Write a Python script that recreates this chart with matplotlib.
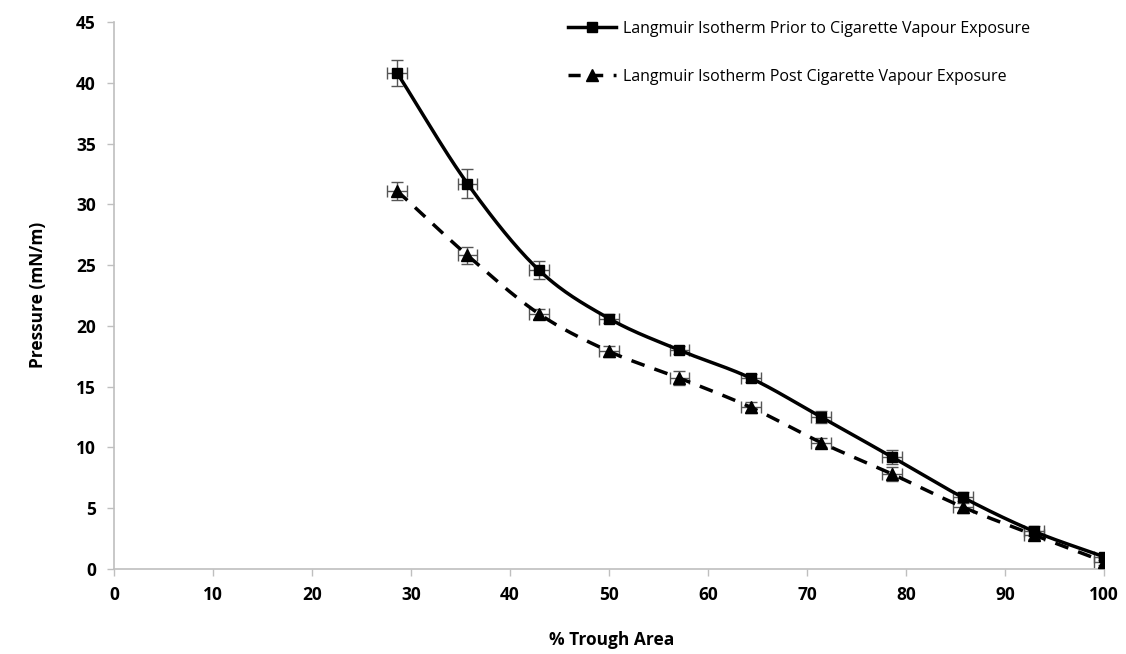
import numpy as np
import matplotlib.pyplot as plt

# Data
trough_area = [28.6, 35.7, 42.9, 50.0, 57.1, 64.3, 71.4, 78.6, 85.7, 92.9, 100.0]
prior = [40.8, 31.7, 24.6, 20.6, 18.0, 15.7, 12.5, 9.2, 5.9, 3.1, 1.0]
prior_err = [1.1, 1.2, 0.75, 0.4, 0.35, 0.35, 0.5, 0.55, 0.45, 0.4, 0.3]
post = [31.1, 25.8, 21.0, 17.9, 15.7, 13.3, 10.4, 7.8, 5.1, 2.8, 0.6]
post_err = [0.75, 0.7, 0.4, 0.45, 0.55, 0.45, 0.35, 0.55, 0.5, 0.35, 0.3]
area_err = 1.0

label_prior = "Langmuir Isotherm Prior to Cigarette Vapour Exposure"
label_post = "Langmuir Isotherm Post Cigarette Vapour Exposure"


def smooth(x, y, n=30):
    # Catmull-Rom spline, similar to Excel's smoothed lines
    x = np.asarray(x, float)
    y = np.asarray(y, float)
    px = np.concatenate([[2 * x[0] - x[1]], x, [2 * x[-1] - x[-2]]])
    py = np.concatenate([[2 * y[0] - y[1]], y, [2 * y[-1] - y[-2]]])
    xs, ys = [], []
    t = np.linspace(0, 1, n)
    for i in range(1, len(px) - 2):
        for p, out in ((px, xs), (py, ys)):
            p0, p1, p2, p3 = p[i - 1], p[i], p[i + 1], p[i + 2]
            out.append(0.5 * (2 * p1 + (-p0 + p2) * t
                              + (2 * p0 - 5 * p1 + 4 * p2 - p3) * t ** 2
                              + (-p0 + 3 * p1 - 3 * p2 + p3) * t ** 3))
    return np.concatenate(xs), np.concatenate(ys)


plt.rcParams['font.family'] = ['Open Sans', 'DejaVu Sans']

fig = plt.figure(figsize=(11.26, 6.54), dpi=100)
ax = fig.add_axes([0.1012, 0.130, 0.8795, 0.8364])

err_kw = dict(fmt='none', ecolor='#555555', elinewidth=1.0, capsize=4, capthick=1.0, zorder=2)
ax.errorbar(trough_area, prior, yerr=prior_err, xerr=area_err, **err_kw)
ax.errorbar(trough_area, post, yerr=post_err, xerr=area_err, **err_kw)

sx, sy = smooth(trough_area, prior)
ax.plot(sx, sy, color='black', lw=2.5, zorder=3)
ax.plot(trough_area, prior, 's', color='black', ms=7, zorder=4)
sx, sy = smooth(trough_area, post)
ax.plot(sx, sy, color='black', lw=2.5, ls=(0, (4, 3)), zorder=3)
ax.plot(trough_area, post, '^', color='black', ms=8, zorder=4)

# legend handles
h1, = ax.plot([], [], color='black', lw=2.5, marker='s', ms=7)
h2, = ax.plot([], [], color='black', lw=2.5, ls=(0, (3.5, 3)), marker='^', ms=8)
ax.legend([h1, h2], [label_prior, label_post], loc='upper left',
          bbox_to_anchor=(0.444, 1.028), frameon=False, fontsize=11.5,
          labelspacing=2.0, handlelength=3.0, handletextpad=0.45)

ax.set_xlim(0, 100)
ax.set_ylim(0, 45)
ax.set_xticks(np.arange(0, 101, 10))
ax.set_yticks(np.arange(0, 46, 5))
for side in ('top', 'right'):
    ax.spines[side].set_visible(False)
for side in ('left', 'bottom'):
    ax.spines[side].set_color('#bfbfbf')
    ax.spines[side].set_linewidth(1.2)
ax.tick_params(axis='both', colors='#bfbfbf', length=5, width=1, labelcolor='black',
               labelsize=12.5)
ax.tick_params(axis='x', pad=7)
ax.tick_params(axis='y', pad=8)
for lbl in ax.get_xticklabels() + ax.get_yticklabels():
    lbl.set_fontweight('bold')

fig.text(612 / 1126, 1 - 640 / 654, "% Trough Area", fontsize=12.5, fontweight='bold',
         ha='center', va='center')
fig.text(38 / 1126, 1 - 295 / 654, "Pressure (mN/m)", fontsize=12.5, fontweight='bold',
         ha='center', va='center', rotation=90)

fig.savefig("out.png", dpi=100)
